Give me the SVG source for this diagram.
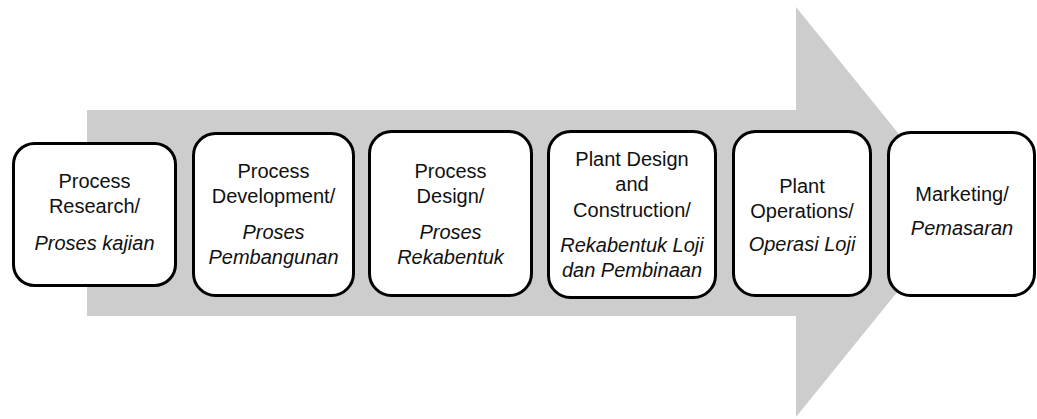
<svg xmlns="http://www.w3.org/2000/svg" width="1037" height="419" viewBox="0 0 1037 419">
  <style>
    .box { fill: #ffffff; stroke: #000000; stroke-width: 3; }
    .lbl { font-family: "Liberation Sans", Arial, sans-serif; font-size: 20px; fill: #111111; text-anchor: middle; }
    .it { font-style: italic; }
  </style>

  <!-- Background process-flow arrow -->
  <g id="flow-arrow">
    <polygon points="87,110 796,110 796,7 962,212 796,417 796,316 87,316" fill="#cdcdcd"/>
  </g>

  <g id="connectors"></g>

  <g id="step-research">
    <rect class="box" x="13.5" y="143.5" width="162" height="142" rx="21"/>
    <text class="lbl" x="94.5" y="188">Process</text>
    <text class="lbl" x="94.5" y="213">Research/</text>
    <text class="lbl it" x="94.5" y="250">Proses kajian</text>
  </g>

  <g id="step-development">
    <rect class="box" x="193.5" y="133.5" width="160" height="162" rx="22"/>
    <text class="lbl" x="273.5" y="178">Process</text>
    <text class="lbl" x="273.5" y="203">Development/</text>
    <text class="lbl it" x="273.5" y="239">Proses</text>
    <text class="lbl it" x="273.5" y="264">Pembangunan</text>
  </g>

  <g id="step-design">
    <rect class="box" x="369.5" y="131.5" width="162" height="164" rx="22"/>
    <text class="lbl" x="450.5" y="178">Process</text>
    <text class="lbl" x="450.5" y="203">Design/</text>
    <text class="lbl it" x="450.5" y="239">Proses</text>
    <text class="lbl it" x="450.5" y="264">Rekabentuk</text>
  </g>

  <g id="step-plant-design">
    <rect class="box" x="548.5" y="131.5" width="167" height="166" rx="22"/>
    <text class="lbl" x="632" y="166">Plant Design</text>
    <text class="lbl" x="632" y="191">and</text>
    <text class="lbl" x="632" y="217">Construction/</text>
    <text class="lbl it" x="632" y="252">Rekabentuk Loji</text>
    <text class="lbl it" x="632" y="277">dan Pembinaan</text>
  </g>

  <g id="step-operations">
    <rect class="box" x="733.5" y="131.5" width="137" height="164" rx="22"/>
    <text class="lbl" x="802" y="193">Plant</text>
    <text class="lbl" x="802" y="218">Operations/</text>
    <text class="lbl it" x="802" y="251">Operasi Loji</text>
  </g>

  <g id="step-marketing">
    <rect class="box" x="888.5" y="132.5" width="146" height="163" rx="22"/>
    <text class="lbl" x="962" y="201">Marketing/</text>
    <text class="lbl it" x="962" y="235">Pemasaran</text>
  </g>
</svg>
